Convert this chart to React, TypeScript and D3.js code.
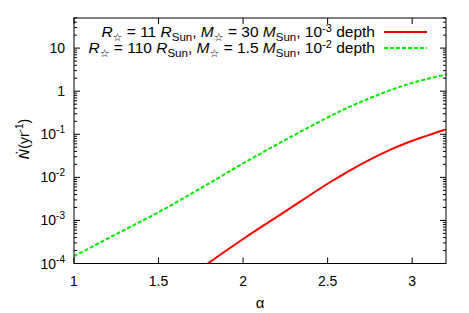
import { useMemo } from 'react';
import * as d3 from 'd3';

// --- Data ---
const redAlpha = [1.78, 2.0, 2.25, 2.5, 2.625, 2.75, 2.875, 3.0, 3.2];
const redRate = [9.3e-5, 3.7e-4, 1.62e-3, 7.1e-3, 1.40e-2, 2.58e-2, 4.44e-2, 7.08e-2, 0.13];

const greenAlpha = [1.0, 1.25, 1.5, 1.75, 2.0, 2.25, 2.5, 2.625, 2.75, 2.875, 3.0, 3.2];
const greenRate = [1.48e-4, 4.8e-4, 1.55e-3, 5.6e-3, 2.1e-2, 7.4e-2, 0.245, 0.425, 0.69, 1.07, 1.55, 2.45];

const xTicks = [1, 1.5, 2, 2.5, 3];
const xTickLabels = ['1', '1.5', '2', '2.5', '3'];
const yDecades = [-4, -3, -2, -1, 0, 1];

const W = 469;
const H = 313;
const M = { left: 74, right: 23, top: 18, bottom: 49.5 };
const FONT = '"Liberation Sans", Arial, sans-serif';

const App = () => {
    const iw = W - M.left - M.right;
    const ih = H - M.top - M.bottom;

    const { x, y, redPath, greenPath, minors } = useMemo(() => {
        const x = d3.scaleLinear().domain([1, 3.2]).range([0, iw]);
        const y = d3.scaleLog().domain([1e-4, 50]).range([ih, 0]);
        const line = d3.line<[number, number]>()
            .x(d => x(d[0]))
            .y(d => y(d[1]))
            .curve(d3.curveCatmullRom.alpha(0.5));
        const redPath = line(redAlpha.map((a, i) => [a, redRate[i]])) || '';
        const greenPath = line(greenAlpha.map((a, i) => [a, greenRate[i]])) || '';
        const minors: number[] = [];
        for (let e = -4; e <= 1; e++) {
            for (let m = 2; m <= 9; m++) {
                const v = m * Math.pow(10, e);
                if (v <= 50) minors.push(v);
            }
        }
        return { x, y, redPath, greenPath, minors };
    }, [iw, ih]);

    const yLabel = (e: number) => {
        if (e === 0) return <tspan>1</tspan>;
        if (e === 1) return <tspan>10</tspan>;
        return (
            <>
                <tspan>10</tspan>
                <tspan dy={-6} fontSize={10}>{String(e)}</tspan>
            </>
        );
    };

    // legend entries
    const legendRows = [
        { r: '11', m: '30', d: '-3', color: '#ff0000', dash: undefined },
        { r: '110', m: '1.5', d: '-2', color: '#00ee00', dash: '4,2' },
    ];

    return (
        <div style={{ position: 'fixed', left: 0, top: 0 }}>
            <svg width={W} height={H} style={{ display: 'block', background: '#fff' }} fontFamily={FONT}>
                <defs>
                    <clipPath id="plotClip">
                        <rect x={0} y={0} width={iw} height={ih} />
                    </clipPath>
                </defs>
                <g transform={`translate(${M.left},${M.top})`}>
                    {/* y ticks (left + right mirrored) */}
                    {yDecades.map(e => {
                        const yy = y(Math.pow(10, e));
                        return (
                            <g key={'yd' + e}>
                                <line x1={0} x2={6} y1={yy} y2={yy} stroke="#000" />
                                <line x1={iw} x2={iw - 6} y1={yy} y2={yy} stroke="#000" />
                                <text x={-9} y={yy + 5} textAnchor="end" fontSize={14}>{yLabel(e)}</text>
                            </g>
                        );
                    })}
                    {minors.map((v, i) => {
                        const yy = y(v);
                        return (
                            <g key={'ym' + i}>
                                <line x1={0} x2={3} y1={yy} y2={yy} stroke="#000" />
                                <line x1={iw} x2={iw - 3} y1={yy} y2={yy} stroke="#000" />
                            </g>
                        );
                    })}
                    {/* x ticks (bottom + top mirrored) */}
                    {xTicks.map((t, i) => {
                        const xx = x(t);
                        return (
                            <g key={'xt' + t}>
                                <line x1={xx} x2={xx} y1={ih} y2={ih - 6} stroke="#000" />
                                <line x1={xx} x2={xx} y1={0} y2={6} stroke="#000" />
                                <text x={xx} y={ih + 22} textAnchor="middle" fontSize={14}>{xTickLabels[i]}</text>
                            </g>
                        );
                    })}

                    {/* curves */}
                    <g clipPath="url(#plotClip)">
                        <path d={redPath} fill="none" stroke="#ff0000" strokeWidth={2} />
                        <path d={greenPath} fill="none" stroke="#00ee00" strokeWidth={2} strokeDasharray="4,2" />
                    </g>

                    {/* legend */}
                    {legendRows.map((row, i) => {
                        const by = 19 + i * 16;
                        return (
                            <g key={'lg' + i}>
                                <text x={301} y={by} textAnchor="end" fontSize={15.5}>
                                    <tspan fontStyle="italic">R</tspan>
                                    <tspan dy={3.5} fontSize={11} fontFamily="DejaVu Sans">☆</tspan>
                                    <tspan dy={-3.5}>{` = ${row.r} `}</tspan>
                                    <tspan fontStyle="italic">R</tspan>
                                    <tspan dy={3.5} fontSize={11.5}>Sun</tspan>
                                    <tspan dy={-3.5}>, </tspan>
                                    <tspan fontStyle="italic">M</tspan>
                                    <tspan dy={3.5} fontSize={11} fontFamily="DejaVu Sans">☆</tspan>
                                    <tspan dy={-3.5}>{` = ${row.m} `}</tspan>
                                    <tspan fontStyle="italic">M</tspan>
                                    <tspan dy={3.5} fontSize={11.5}>Sun</tspan>
                                    <tspan dy={-3.5}>, 10</tspan>
                                    <tspan dy={-5.5} fontSize={11}>{row.d}</tspan>
                                    <tspan dy={5.5}> depth</tspan>
                                </text>
                                <line x1={310} x2={353} y1={by - 5} y2={by - 5} stroke={row.color} strokeWidth={2}
                                      strokeDasharray={row.dash} />
                            </g>
                        );
                    })}

                    {/* frame */}
                    <rect x={0} y={0} width={iw} height={ih} fill="none" stroke="#000" />

                    {/* axis titles */}
                    <text x={iw / 2} y={ih + 44} textAnchor="middle" fontSize={15}>α</text>
                    <text transform={`translate(${24 - M.left},${139 - M.top}) rotate(-90)`} textAnchor="middle"
                          fontSize={14} dy={5}>
                        <tspan fontStyle="italic" fontFamily="DejaVu Sans">Ṅ</tspan>
                        <tspan>(yr</tspan>
                        <tspan dy={-6} fontSize={10}>-1</tspan>
                        <tspan dy={6}>)</tspan>
                    </text>
                </g>
            </svg>
        </div>
    );
};

export default App;
